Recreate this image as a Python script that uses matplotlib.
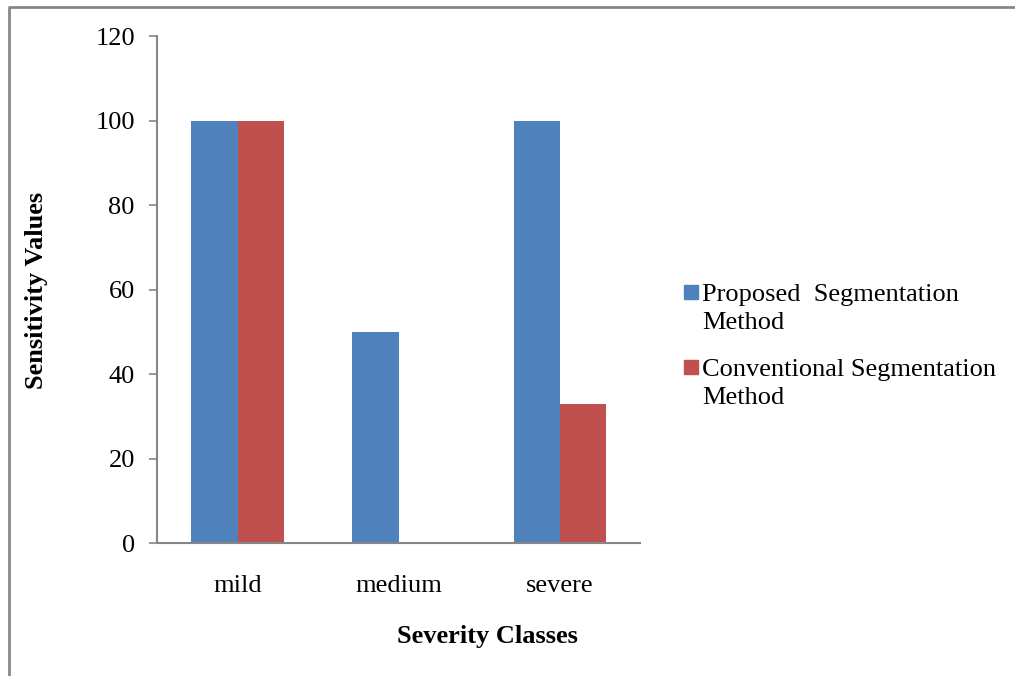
import numpy as np
import matplotlib
matplotlib.use("Agg")
import matplotlib.pyplot as plt
from matplotlib.patches import Rectangle
from matplotlib.lines import Line2D

categories = ["mild", "medium", "severe"]
proposed = [100, 50, 100]
conventional = [100, 0, 33]
series_names = ["Proposed  Segmentation\nMethod", "Conventional Segmentation\nMethod"]
yticks = [0, 20, 40, 60, 80, 100, 120]

BLUE = "#4F81BD"
RED = "#C0504D"
GRAY = "#868686"

plt.rcParams["font.family"] = ["Liberation Serif", "DejaVu Serif"]

fig = plt.figure(figsize=(10.15, 6.76), dpi=100)
ax = fig.add_axes([0.1547, 0.1967, 0.4759, 0.75])

x = np.arange(len(categories))
w = 0.286
ax.bar(x - w / 2, proposed, w, color=BLUE)
ax.bar(x + w / 2, conventional, w, color=RED)

ax.set_xlim(-0.5, 2.5)
ax.set_ylim(0, 120)
ax.set_yticks(yticks)
ax.set_xticks(x)
ax.set_xticklabels(categories, fontsize=19)
ax.tick_params(axis="x", length=0, pad=23)
ax.tick_params(axis="y", length=6, color=GRAY, width=1.2, labelsize=19, pad=10)
for s in ["top", "right"]:
    ax.spines[s].set_visible(False)
for s in ["left", "bottom"]:
    ax.spines[s].set_color(GRAY)
    ax.spines[s].set_linewidth(1.5)

fig.text(0.036, 0.57, "Sensitivity Values", rotation=90, fontsize=19,
         fontweight="bold", ha="center", va="center")
fig.text(0.48, 0.059, "Severity Classes", fontsize=19, fontweight="bold",
         ha="center", va="center")

# legend
for i, (name, col) in enumerate(zip(series_names, [BLUE, RED])):
    ytop = 1 - (285 + i * 75) / 676
    fig.patches.append(Rectangle((684 / 1015, ytop - 14 / 676), 14 / 1015, 14 / 676,
                                 transform=fig.transFigure, color=col))
    fig.text(702 / 1015, ytop + 1 / 676, name, fontsize=19, ha="left", va="top",
             linespacing=1.35)

# outer frame
fig.lines.append(Line2D([9 / 1015, 9 / 1015, 1.0], [0.0, 1 - 7 / 676, 1 - 7 / 676],
                        transform=fig.transFigure, color="#878787", lw=2))

fig.savefig("out.png", dpi=100)
